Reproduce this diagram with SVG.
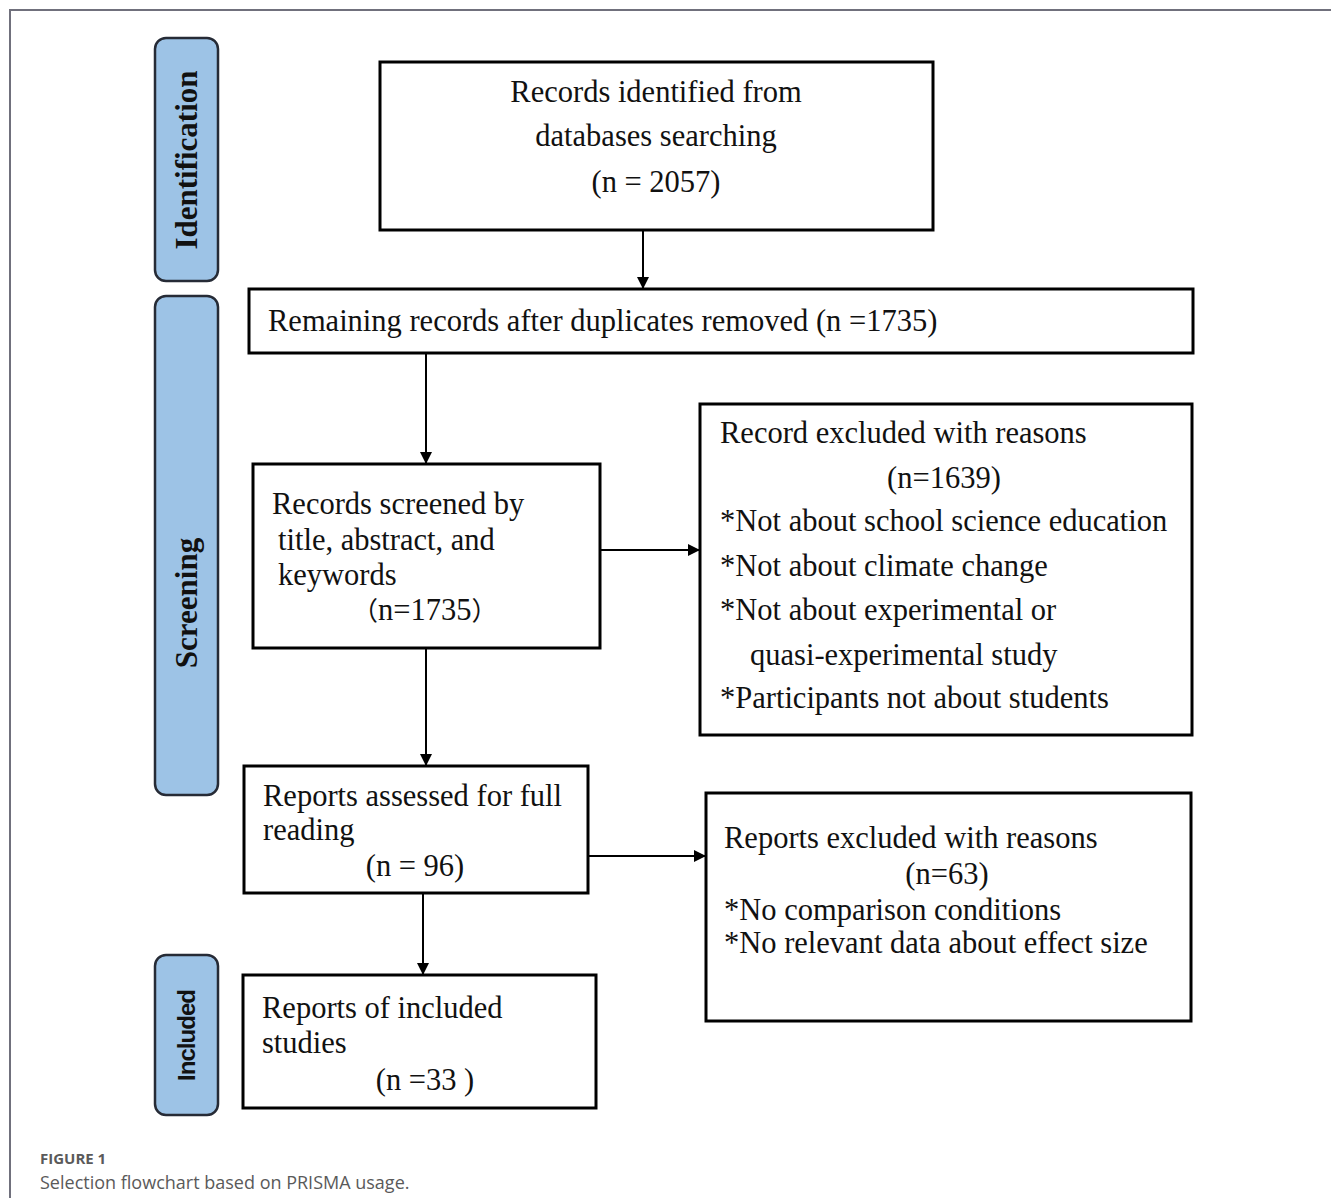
<svg xmlns="http://www.w3.org/2000/svg" width="1331" height="1198" viewBox="0 0 1331 1198">
<defs>
<style>
.frame{fill:none;stroke:#70707c;stroke-width:2}
.box{fill:#fff;stroke:#000;stroke-width:3}
.stage{fill:#9dc3e6;stroke:#262b36;stroke-width:2.5}
.t{font-family:"Liberation Serif","Times New Roman","Noto Sans CJK SC",serif;font-size:30.5px;fill:#111}
.st{font-family:"Liberation Serif","Times New Roman",serif;font-size:31px;font-weight:bold;fill:#111}
.ss{font-family:"Liberation Sans",Arial,sans-serif;font-size:24px;font-weight:bold;fill:#111}
.c{text-anchor:middle}
.conn{stroke:#000;stroke-width:2;fill:none;marker-end:url(#ah)}
.cap1{font-family:"Open Sans","Noto Sans",sans-serif;font-size:15px;font-weight:bold;fill:#5a5a5a}
.cap2{font-family:"Open Sans","Noto Sans",sans-serif;font-size:18px;fill:#5a5a5a}
</style>
<marker id="ah" markerWidth="12" markerHeight="12" refX="11" refY="6" orient="auto" markerUnits="userSpaceOnUse">
<path d="M0,0 L12,6 L0,12 Z" fill="#000"/>
</marker>
</defs>
<rect width="1331" height="1198" fill="#fff"/>
<path class="frame" d="M10,1198 V10 H1331"/>

<g id="stage-identification">
<rect class="stage" x="155" y="38" width="63" height="243" rx="11"/>
<text class="st c" transform="translate(197,160) rotate(-90)">Identification</text>
</g>
<g id="stage-screening">
<rect class="stage" x="155" y="296" width="63" height="499" rx="11"/>
<text class="st c" transform="translate(197,603) rotate(-90)">Screening</text>
</g>
<g id="stage-included">
<rect class="stage" x="155" y="955" width="63" height="160" rx="11"/>
<text class="ss c" transform="translate(195,1035) rotate(-90)" textLength="92">Included</text>
</g>

<g id="connectors">
<line class="conn" x1="643" y1="230" x2="643" y2="288"/>
<line class="conn" x1="426" y1="353" x2="426" y2="463"/>
<line class="conn" x1="600" y1="550" x2="699" y2="550"/>
<line class="conn" x1="426" y1="648" x2="426" y2="765"/>
<line class="conn" x1="588" y1="856" x2="705" y2="856"/>
<line class="conn" x1="423" y1="893" x2="423" y2="974"/>
</g>

<g id="node-identified">
<rect class="box" x="380" y="62" width="553" height="168"/>
<text class="t c" x="656" y="102">Records identified from</text>
<text class="t c" x="656" y="146">databases searching</text>
<text class="t c" x="656" y="192">(n = 2057)</text>
</g>

<g id="node-remaining">
<rect class="box" x="249" y="289" width="944" height="64"/>
<text class="t" x="268" y="331">Remaining records after duplicates removed (n =1735)</text>
</g>

<g id="node-screened">
<rect class="box" x="253" y="464" width="347" height="184"/>
<text class="t" x="272" y="514">Records screened by</text>
<text class="t" x="278" y="550">title, abstract, and</text>
<text class="t" x="278" y="585">keywords</text>
<text class="t" x="352" y="620"><tspan font-family="Noto Sans CJK SC" font-size="26">（</tspan>n=1735<tspan font-family="Noto Sans CJK SC" font-size="26">）</tspan></text>
</g>

<g id="node-record-excluded">
<rect class="box" x="700" y="404" width="492" height="331"/>
<text class="t" x="720" y="443">Record excluded with reasons</text>
<text class="t c" x="944" y="488">(n=1639)</text>
<text class="t" x="720" y="531">*Not about school science education</text>
<text class="t" x="720" y="576">*Not about climate change</text>
<text class="t" x="720" y="620">*Not about experimental or</text>
<text class="t" x="750" y="665">quasi-experimental study</text>
<text class="t" x="720" y="708">*Participants not about students</text>
</g>

<g id="node-assessed">
<rect class="box" x="244" y="766" width="344" height="127"/>
<text class="t" x="263" y="806">Reports assessed for full</text>
<text class="t" x="263" y="840">reading</text>
<text class="t c" x="415" y="876">(n = 96)</text>
</g>

<g id="node-reports-excluded">
<rect class="box" x="706" y="793" width="485" height="228"/>
<text class="t" x="724" y="848">Reports excluded with reasons</text>
<text class="t c" x="947" y="884">(n=63)</text>
<text class="t" x="724" y="920">*No comparison conditions</text>
<text class="t" x="724" y="953">*No relevant data about effect size</text>
</g>

<g id="node-included">
<rect class="box" x="243" y="975" width="353" height="133"/>
<text class="t" x="262" y="1018">Reports of included</text>
<text class="t" x="262" y="1053">studies</text>
<text class="t c" x="425" y="1090">(n =33 )</text>
</g>

<g id="caption">
<text class="cap1" x="40" y="1164">FIGURE 1</text>
<text class="cap2" x="40" y="1189">Selection flowchart based on PRISMA usage.</text>
</g>
</svg>
